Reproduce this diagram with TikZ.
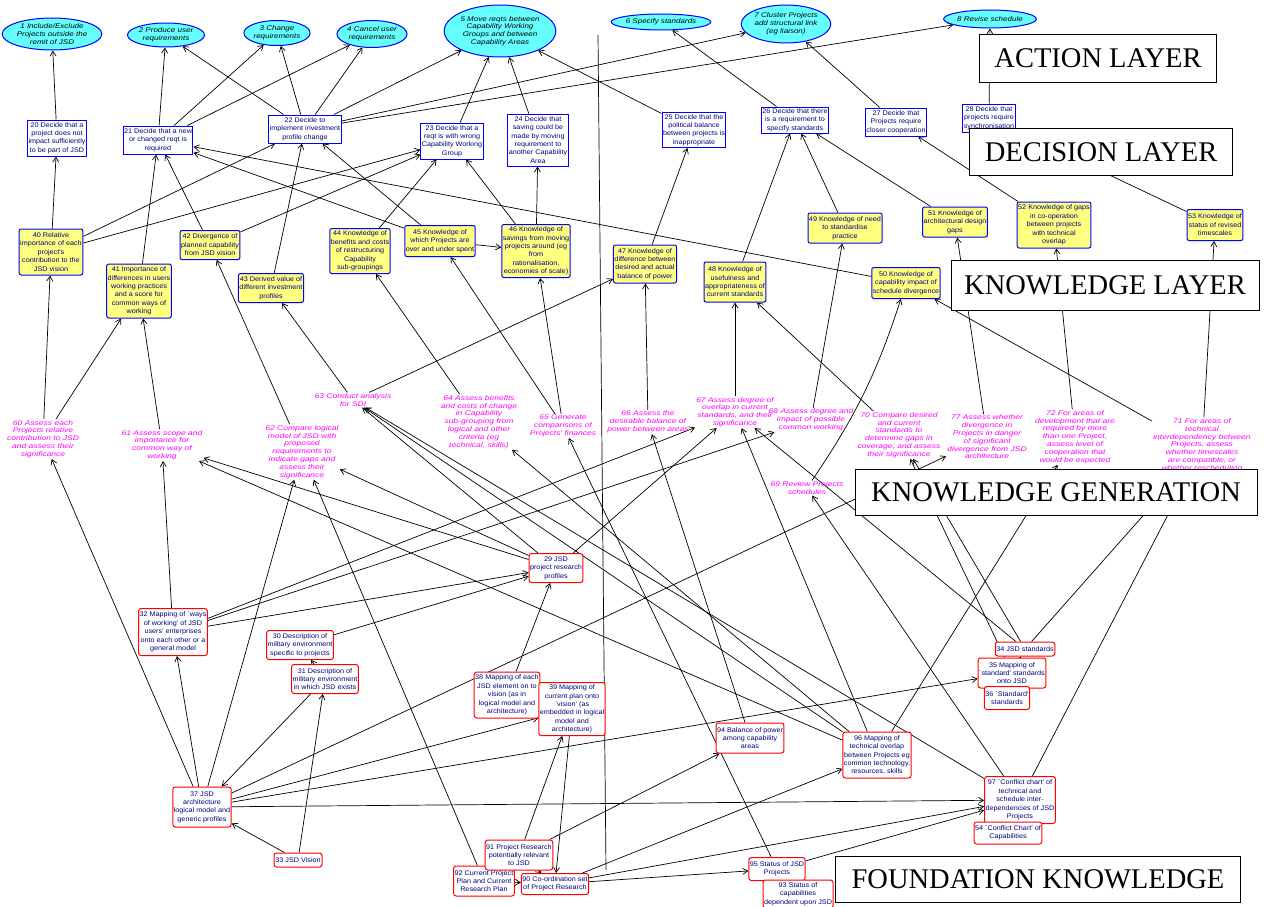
\documentclass[tikz,border=0pt]{standalone}
\usepackage{fontspec}
\setmainfont{Liberation Serif}
\newfontfamily\boxf{Liberation Sans}[FakeStretch=1.08]
\newfontfamily\genf{Liberation Sans}[FakeStretch=1.25]
\newfontfamily\actf{Liberation Sans}[FakeStretch=1.18]
\usetikzlibrary{shapes.geometric,arrows.meta}
\pgfdeclarelayer{bg}
\pgfdeclarelayer{edges}
\pgfsetlayers{bg,edges,main}
\definecolor{cyanfill}{RGB}{102,255,255}
\definecolor{yel}{RGB}{255,255,128}
\definecolor{navy}{RGB}{0,0,128}
\definecolor{mag}{RGB}{255,0,255}
\definecolor{bord}{RGB}{0,0,255}
\definecolor{redb}{RGB}{255,0,0}
\begin{document}
\begin{tikzpicture}[x=1pt,y=-1pt,
  base/.style={inner sep=1pt, align=center, font=\boxf\fontsize{6.7}{8.4}\selectfont},
  act/.style={base, ellipse, draw=bord, line width=1pt, fill=cyanfill, font=\actf\itshape\fontsize{6.8}{7.8}\selectfont, inner sep=0pt},
  dec/.style={base, draw=bord, line width=1pt, fill=white, text=navy},
  kno/.style={base, draw=bord, line width=1pt, fill=yel, text=navy, rounded corners=2pt},
  gen/.style={base, text=mag, font=\genf\itshape\fontsize{6.8}{7.8}\selectfont},
  fnd/.style={base, draw=redb, line width=1pt, fill=white, text=navy, rounded corners=2.5pt},
  lbl/.style={draw=black, line width=0.8pt, fill=white, font=\fontsize{28.5}{31}\selectfont, inner sep=0pt},
  arr/.style={draw=black, line width=0.7pt, -{Straight Barb[length=5pt,width=6pt]}},
  divider/.style={draw=black, line width=0.7pt},
]
\begin{pgfonlayer}{bg}
\fill[white] (0,0) rectangle (1264,907);
\end{pgfonlayer}
\useasboundingbox (0,0) rectangle (1264,907);

% ---------------- ACTION LAYER ----------------
\node[act, minimum width=82pt, minimum height=32pt] (A1) at (52,34) {1 Include/Exclude\\Projects outside the\\remit of JSD};
\node[act, minimum width=68pt, minimum height=24pt] (A2) at (166,35) {2 Produce user\\requirements};
\node[act, minimum width=58pt, minimum height=25pt] (A3) at (277,33) {3 Change\\requirements};
\node[act, minimum width=58pt, minimum height=27pt] (A4) at (372,34) {4 Cancel user\\requirements};
\node[act, minimum width=92pt, minimum height=52pt] (A5) at (500,31) {5 Move reqts between\\Capability Working\\Groups and between\\Capability Areas};
\node[act, minimum width=78pt, minimum height=16pt] (A6) at (661,22) {6 Specify standards};
\node[act, minimum width=78pt, minimum height=38pt] (A7) at (786,24) {7 Cluster Projects\\add structural link\\(eg liaison)};
\node[act, minimum width=77pt, minimum height=18pt] (A8) at (990,19) {8 Revise schedule};

% ---------------- DECISION LAYER ----------------
\node[dec, minimum width=54pt, minimum height=36pt] (D20) at (57,138) {20 Decide that a\\project does not\\impact sufficiently\\to be part of JSD};
\node[dec, minimum width=60pt, minimum height=28pt] (D21) at (158,140) {21 Decide that a new\\or changed reqt is\\required};
\node[dec, minimum width=67pt, minimum height=28pt] (D22) at (305,129) {22 Decide to\\implement investment\\profile change};
\node[dec, minimum width=56pt, minimum height=36pt] (D23) at (452,141) {23 Decide that a\\reqt is with wrong\\Capability Working\\Group};
\node[dec, minimum width=54pt, minimum height=52pt] (D24) at (538,140) {24 Decide that\\saving could be\\made by moving\\requirement to\\another Capability\\Area};
\node[dec, minimum width=57pt, minimum height=35pt] (D25) at (694,130) {25 Decide that the\\political balance\\between projects is\\inappropriate};
\node[dec, minimum width=58pt, minimum height=26pt] (D26) at (795,120) {26 Decide that there\\is a requirement to\\specify standards};
\node[dec, minimum width=53pt, minimum height=28pt] (D27) at (896,122) {27 Decide that\\Projects require\\closer cooperation};
\node[dec, minimum width=48pt, minimum height=28pt] (D28) at (989,118) {28 Decide that\\projects require\\synchronisation};

% ---------------- KNOWLEDGE LAYER ----------------
\node[kno, minimum width=55pt, minimum height=46pt] (K40) at (51,252) {40 Relative\\importance of each\\project's\\contribution to the\\JSD vision};
\node[kno, minimum width=57pt, minimum height=54pt] (K41) at (139,291) {41 Importance of\\differences in users\\working practices\\and a score for\\common ways of\\working};
\node[kno, minimum width=54pt, minimum height=29pt] (K42) at (210,245) {42 Divergence of\\planned capability\\from JSD vision};
\node[kno, minimum width=57pt, minimum height=29pt] (K43) at (271,288) {43 Derived value of\\different investment\\profiles};
\node[kno, minimum width=54pt, minimum height=45pt] (K44) at (360,251) {44 Knowledge of\\benefits and costs\\of restructuring\\Capability\\sub-groupings};
\node[kno, minimum width=57pt, minimum height=31pt] (K45) at (440,241) {45 Knowledge of\\which Projects are\\over and under spent};
\node[kno, minimum width=60pt, minimum height=53pt] (K46) at (536,251) {46 Knowledge of\\savings from moving\\projects around (eg\\from\\rationalisation,\\economies of scale)};
\node[kno, minimum width=55pt, minimum height=38pt] (K47) at (645,264) {47 Knowledge of\\difference between\\desired and actual\\balance of power};
\node[kno, minimum width=55pt, minimum height=40pt] (K48) at (735,282) {48 Knowledge of\\usefulness and\\appropriateness of\\current standards};
\node[kno, minimum width=66pt, minimum height=30pt] (K49) at (845,228) {49 Knowledge of need\\to standardise\\practice};
\node[kno, minimum width=62pt, minimum height=31pt] (K50) at (906,283) {50 Knowledge of\\capability impact of\\schedule divergence};
\node[kno, minimum width=56pt, minimum height=30pt] (K51) at (955,222) {51 Knowledge of\\architectural design\\gaps};
\node[kno, minimum width=65pt, minimum height=46pt] (K52) at (1054,225) {52 Knowledge of gaps\\in co-operation\\between projects\\with technical\\overlap};
\node[kno, minimum width=50pt, minimum height=31pt] (K53) at (1215,225) {53 Knowledge of\\status of revised\\timescales};

% ---------------- KNOWLEDGE GENERATION ----------------
\node[gen] (G60) at (43,439) {60 Assess each\\Projects relative\\contribution to JSD\\and assess their\\significance};
\node[gen] (G61) at (162,445) {61 Assess scope and\\importance for\\common way of\\working};
\node[gen] (G62) at (302,452) {62 Compare logical\\model of JSD with\\proposed\\requirements to\\indicate gaps and\\assess their\\significance};
\node[gen] (G63) at (353,400) {63 Conduct analysis\\for SDI};
\node[gen] (G64) at (479,422) {64 Assess benefits\\and costs of change\\in Capability\\sub-grouping from\\logical and other\\criteria (eg\\technical, skills)};
\node[gen] (G65) at (563,426) {65 Generate\\comparisons of\\Projects' finances};
\node[gen] (G66) at (648,422) {66 Assess the\\desirable balance of\\power between areas};
\node[gen] (G67) at (735,412) {67 Assess degree of\\overlap in current\\standards, and their\\significance};
\node[gen] (G68) at (811,420) {68 Assess degree and\\impact of possible\\common working};
\node[gen] (G69) at (807,488) {69 Review Projects\\schedules};
\node[gen] (G70) at (899,435) {70 Compare desired\\and current\\standards to\\determine gaps in\\coverage, and assess\\their significance};
\node[gen] (G77) at (987,437) {77 Assess whether\\divergence in\\Projects in danger\\of significant\\divergence from JSD\\architecture};
\node[gen] (G72) at (1075,437) {72 For areas of\\development that are\\required by more\\than one Project,\\assess level of\\cooperation that\\would be expected};
\node[gen] (G71) at (1202,449) {71 For areas of\\technical\\interdependency between\\Projects, assess\\whether timescales\\are compatible, or\\whether rescheduling\\is required};

% ---------------- FOUNDATION KNOWLEDGE ----------------
\node[fnd, minimum width=48pt, minimum height=29pt] (F29) at (556,568) {29 JSD\\project research\\profiles};
\node[fnd, minimum width=60pt, minimum height=29pt] (F30) at (300,645) {30 Description of\\military environment\\specific to projects};
\node[fnd, minimum width=58pt, minimum height=29pt] (F31) at (325,679) {31 Description of\\military environment\\in which JSD exists};
\node[fnd, minimum width=60pt, minimum height=47pt] (F32) at (173,632) {32 Mapping of `ways\\of working' of JSD\\users' enterprises\\onto each other or a\\general model};
\node[fnd, minimum width=48pt, minimum height=14pt] (F33) at (298,860) {33 JSD Vision};
\node[fnd, minimum width=52pt, minimum height=14pt] (F34) at (1025,649) {34 JSD standards};
\node[fnd, minimum width=58pt, minimum height=30pt] (F35) at (1012,673) {35 Mapping of\\`standard' standards\\onto JSD};
\node[fnd, minimum width=40pt, minimum height=23pt] (F36) at (1007,698) {36 `Standard'\\standards};
\node[fnd, minimum width=54pt, minimum height=40pt] (F37) at (202,807) {37 JSD\\architecture\\logical model and\\generic profiles};
\node[fnd, minimum width=58pt, minimum height=46pt] (F38) at (507,695) {38 Mapping of each\\JSD element on to\\vision (as in\\logical model and\\architecture)};
\node[fnd, minimum width=58pt, minimum height=53pt] (F39) at (572,709) {39 Mapping of\\current plan onto\\`vision' (as\\embedded in logical\\model and\\architecture)};
\node[fnd, minimum width=54pt, minimum height=30pt] (F92) at (484,881) {92 Current Project\\Plan and Current\\Research Plan};
\node[fnd, minimum width=62pt, minimum height=30pt] (F91) at (519,855) {91 Project Research\\potentially relevant\\to JSD};
\node[fnd, minimum width=60pt, minimum height=21pt] (F90) at (555,884) {90 Co-ordination set\\of Project Research};
\node[fnd, minimum width=60pt, minimum height=30pt] (F94) at (750,738) {94 Balance of power\\among capability\\areas};
\node[fnd, minimum width=52pt, minimum height=23pt] (F95) at (777,869) {95 Status of JSD\\Projects};
\node[fnd, minimum width=61pt, minimum height=28pt] (F93) at (798,894) {93 Status of\\capabilities\\dependent upon JSD};
\node[fnd, minimum width=62pt, minimum height=46pt] (F96) at (877,755) {96 Mapping of\\technical overlap\\between Projects eg\\common technology,\\resources, skills};
\node[fnd, minimum width=64pt, minimum height=47pt] (F97) at (1020,800) {97 `Conflict chart' of\\technical and\\schedule inter-\\dependencies of JSD\\Projects};
\node[fnd, minimum width=54pt, minimum height=22pt] (F54) at (1008,833) {54 `Conflict Chart' of\\Capabilities};

% divider
\coordinate (vtop) at (598,35);
\coordinate (vbot) at (606,870);

% ---------------- EDGES ----------------
\begin{pgfonlayer}{edges}
\draw[divider] (vtop) -- (vbot);
% decision -> action
\draw[arr] (D20) -- (A1);
\draw[arr] (D21) -- (A2);
\draw[arr] (D21) -- (A3);
\draw[arr] (D21) -- (A4);
\draw[arr] (D22) -- (A2);
\draw[arr] (D22) -- (A3);
\draw[arr] (D22) -- (A4);
\draw[arr] (D22) -- (A5);
\draw[arr] (D22) -- (A7);
\draw[arr] (D22) -- (A8);
\draw[arr] (D23) -- (A5);
\draw[arr] (D24) -- (A5);
\draw[arr] (D25) -- (A5);
\draw[arr] (D26) -- (A6);
\draw[arr] (D27) -- (A7);
\draw[arr] (D28) -- (A8);
% knowledge -> decision
\draw[arr] (K40) -- (D20);
\draw[arr] (K40) -- (D22);
\draw[arr] (K40) -- (D23);
\draw[arr] (K41) -- (D21);
\draw[arr] (K42) -- (D21);
\draw[arr] (K42) -- (D23);
\draw[arr] (K43) -- (D22);
\draw[arr] (K44) -- (D23);
\draw[arr] (K45) -- (D22);
\draw[arr] (K45) -- (D21);
\draw[arr] (K45) -- (K46);
\draw[arr] (K46) -- (D23);
\draw[arr] (K46) -- (D24);
\draw[arr] (K47) -- (D25);
\draw[arr] (K48) -- (D26);
\draw[arr] (K49) -- (D26);
\draw[arr] (K51) -- (D26);
\draw[arr] (K52) -- (D27);
\draw[arr] (K53) -- (D28);
\draw[arr] (K50) -- (D21);
% generation -> knowledge
\draw[arr] (G60) -- (K40);
\draw[arr] (G60) -- (K41);
\draw[arr] (G61) -- (K41);
\draw[arr] (G62) -- (K42);
\draw[arr] (G63) -- (K43);
\draw[arr] (G63) -- (K47);
\draw[arr] (G64) -- (K44);
\draw[arr] (G65) -- (K45);
\draw[arr] (G65) -- (K46);
\draw[arr] (G66) -- (K47);
\draw[arr] (G67) -- (K48);
\draw[arr] (G68) -- (K49);
\draw[arr] (G70) -- (K48);
\draw[arr] (G69) to[bend right=8] (K50);
\draw[arr] (G77) -- (K51);
\draw[arr] (G72) -- (K52);
\draw[arr] (G71) -- (K53);
\draw[arr] (G71) -- (K50);
% foundation -> generation
\draw[arr] (F37) -- (G60);
\draw[arr] (F37) -- (G62);
\draw[arr] (F32) -- (G61);
\draw[arr] (F29) -- (G61);
\draw[arr] (F96) -- (G61);
\draw[arr] (F29) -- (G62);
\draw[arr] (F92) -- (G62);
\draw[arr] (F29) -- (G63);
\draw[arr] (F96) -- (G63);
\draw[arr] (F97) -- (G63);
\draw[arr] (F96) -- (G64);
\draw[arr] (F95) -- (G65);
\draw[arr] (F94) -- (G66);
\draw[arr] (F96) -- (G67);
\draw[arr] (F29) -- (G67);
\draw[arr] (F32) -- (G67);
\draw[arr] (F34) -- (G67);
\draw[arr] (F32) -- (G68);
\draw[arr] (F97) -- (G69);
\draw[arr] (F34) -- (G70);
\draw[arr] (F35) -- (G70);
\draw[arr] (F37) -- (G77);
\draw[arr] (F96) -- (G72);
\draw[arr] (F97) -- (G71);
\draw[arr] (F34) -- (G71);
% foundation internal
\draw[arr] (F37) -- (F32);
\draw[arr] (F31) -- (F37);
\draw[arr] (F31) -- (F30);
\draw[arr] (F33) -- (F37);
\draw[arr] (F33) -- (F31);
\draw[arr] (F39) -- (F38);
\draw[arr] (F91) -- (F39);
\draw[arr] (F39) -- (F90);
\draw[arr] (F91) -- (F90);
\draw[arr] (F92) -- (F90);
\draw[arr] (F38) -- (F29);
\draw[arr] (F30) -- (F29);
\draw[arr] (F32) -- (F29);
\draw[arr] (F36) -- (F35);
\draw[arr] (F35) -- (F34);
\draw[arr] (F54) -- (F97);
\draw[arr] (F93) -- (F95);
\draw[arr] (F90) -- (F95);
\draw[arr] (F90) -- (F96);
\draw[arr] (F90) -- (F97);
\draw[arr] (F91) -- (F94);
\draw[arr] (F95) -- (F97);
\draw[arr] (F37) -- (F97);
\draw[arr] (F37) -- (F35);
\draw[arr] (F37) -- (F39);
\end{pgfonlayer}

% ---------------- LAYER LABELS ----------------
\node[lbl, minimum width=237pt, minimum height=48pt] (LA) at (1098,58) {ACTION LAYER};
\node[lbl, minimum width=263pt, minimum height=47pt] (LD) at (1101,152) {DECISION LAYER};
\node[lbl, minimum width=308pt, minimum height=50pt] (LK) at (1105,285) {KNOWLEDGE LAYER};
\node[lbl, minimum width=402pt, minimum height=46pt] (LG) at (1056,492) {KNOWLEDGE GENERATION};
\node[lbl, minimum width=405pt, minimum height=46pt] (LF) at (1038,879) {FOUNDATION KNOWLEDGE};
\end{tikzpicture}
\end{document}
